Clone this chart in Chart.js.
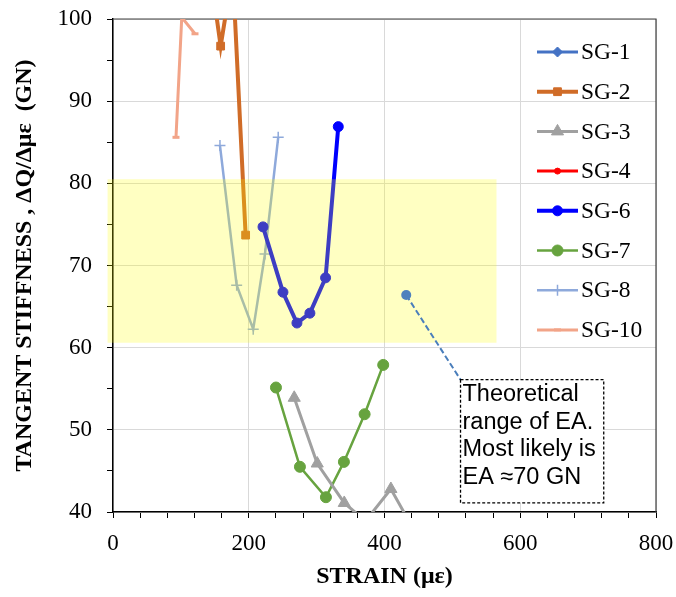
<!DOCTYPE html>
<html>
<head>
<meta charset="utf-8">
<script src="https://cdn.jsdelivr.net/npm/chart.js@4.4.0/dist/chart.umd.min.js"></script>
<style>
  html, body { margin: 0; padding: 0; background: #fff; }
  #wrap { width: 676px; height: 597px; }
</style>
</head>
<body>
<div id="wrap"><canvas id="chart" width="676" height="597"></canvas></div>
<script>
// ----------------------------
// DATA (strain in με, stiffness in GN)
// ----------------------------
const seriesNames = ["SG-1", "SG-2", "SG-3", "SG-4", "SG-6", "SG-7", "SG-8", "SG-10"];

const sg1Strain = [];
const sg1Stiff = [];
const sg2Strain = [148, 158.6, 176.3, 195.4];
const sg2Stiff = [103, 96.7, 105.8, 73.7];
const sg3Strain = [267, 300.9, 340.7, 372, 409.4, 440];
const sg3Stiff = [53.9, 45.9, 41.1, 38.9, 42.8, 38.3];
const sg4Strain = [];
const sg4Stiff = [];
const sg6Strain = [221, 250.4, 271, 290.1, 313.2, 331.9];
const sg6Stiff = [74.7, 66.75, 63, 64.2, 68.5, 86.9];
const sg7Strain = [240.1, 275.4, 313.7, 340.2, 370.7, 398.1];
const sg7Stiff = [55.15, 45.5, 41.8, 46.1, 51.9, 57.9];
const sg8Strain = [157.6, 182.2, 206.6, 223.9, 243.4];
const sg8Stiff = [84.6, 67.6, 62.25, 71.4, 85.6];
const sg10Strain = [92.8, 101.3, 120.8];
const sg10Stiff = [85.6, 100.2, 98.2];

// theoretical EA band + note
const eaBandStrain = [-8, 565];
const eaBandStiff = [60.6, 80.5];
const calloutPoint = [432, 66.4];
const noteStrain = [512, 723];
const noteStiff = [56.1, 41.1];
const noteLines = ["Theoretical", "range of EA.", "Most likely is", "EA \u224870 GN"];

const strainRange = [0, 800];
const stiffRange = [40, 100];

// ----------------------------
// STYLES
// ----------------------------
const styles = {
  "SG-1":  { color: "#4472c4", style: "rectRot",  radius: 5,   width: 3, pw: 1 },
  "SG-2":  { color: "#d06c28", style: "rect",     radius: 5.5, width: 4, pw: 1 },
  "SG-3":  { color: "#a0a0a0", style: "triangle", radius: 7,   width: 3, pw: 1 },
  "SG-4":  { color: "#ff0000", style: "circle",   radius: 3,   width: 3, pw: 1 },
  "SG-6":  { color: "#0000ff", style: "circle",   radius: 5,   width: 4, pw: 1 },
  "SG-7":  { color: "#67a33f", style: "circle",   radius: 5.5, width: 2.5, pw: 1 },
  "SG-8":  { color: "#8ea9db", style: "cross",    radius: 5.5, width: 2.5, pw: 1.5 },
  "SG-10": { color: "#f2a488", style: "line",     radius: 3.5, width: 3, pw: 3 }
};

const xs = [sg1Strain, sg2Strain, sg3Strain, sg4Strain, sg6Strain, sg7Strain, sg8Strain, sg10Strain];
const ys = [sg1Stiff, sg2Stiff, sg3Stiff, sg4Stiff, sg6Stiff, sg7Stiff, sg8Stiff, sg10Stiff];

const datasets = seriesNames.map((name, i) => {
  const s = styles[name];
  return {
    label: name,
    data: xs[i].map((x, j) => ({ x, y: ys[i][j] })),
    borderColor: s.color,
    backgroundColor: s.color,
    borderWidth: s.width,
    pointStyle: s.style,
    pointRadius: s.radius,
    pointBorderWidth: s.pw,
    pointBorderColor: s.color,
    pointBackgroundColor: s.color,
    showLine: true,
    tension: 0,
    fill: false
  };
});

// ----------------------------
// PLUGINS
// ----------------------------
const frame = {
  id: "frame",
  beforeDatasetsDraw(chart) {
    const { ctx, chartArea: a } = chart;
    ctx.save();
    ctx.strokeStyle = "#404040";
    ctx.lineWidth = 1.2;
    ctx.beginPath();
    ctx.moveTo(a.left, a.top);
    ctx.lineTo(a.right, a.top);
    ctx.lineTo(a.right, a.bottom);
    ctx.stroke();
    ctx.restore();
  }
};

const eaBand = {
  id: "eaBand",
  afterDatasetsDraw(chart) {
    const { ctx, scales: { x, y } } = chart;
    ctx.save();

    // yellow band sits over the lines (tints them)
    const bx0 = x.getPixelForValue(eaBandStrain[0]);
    const bx1 = x.getPixelForValue(eaBandStrain[1]);
    const by0 = y.getPixelForValue(eaBandStiff[1]);
    const by1 = y.getPixelForValue(eaBandStiff[0]);
    ctx.fillStyle = "rgba(255, 255, 0, 0.24)";
    ctx.fillRect(bx0, by0, bx1 - bx0, by1 - by0);

    // note box
    const nx0 = x.getPixelForValue(noteStrain[0]);
    const nx1 = x.getPixelForValue(noteStrain[1]);
    const ny0 = y.getPixelForValue(noteStiff[0]);
    const ny1 = y.getPixelForValue(noteStiff[1]);

    // callout line + dot
    const px = x.getPixelForValue(calloutPoint[0]);
    const py = y.getPixelForValue(calloutPoint[1]);
    ctx.strokeStyle = "#4a7ebb";
    ctx.lineWidth = 2;
    ctx.setLineDash([6, 3]);
    ctx.beginPath();
    ctx.moveTo(px, py);
    ctx.lineTo(nx0, ny0);
    ctx.stroke();
    ctx.setLineDash([]);
    ctx.fillStyle = "#4f81bd";
    ctx.beginPath();
    ctx.arc(px, py, 5, 0, Math.PI * 2);
    ctx.fill();

    ctx.fillStyle = "#fff";
    ctx.fillRect(nx0, ny0, nx1 - nx0, ny1 - ny0);
    ctx.strokeStyle = "#000";
    ctx.lineWidth = 1.3;
    ctx.setLineDash([3, 2]);
    ctx.strokeRect(nx0, ny0, nx1 - nx0, ny1 - ny0);
    ctx.setLineDash([]);

    ctx.fillStyle = "#000";
    ctx.font = '23.5px "Liberation Sans"';
    ctx.textBaseline = "middle";
    ctx.textAlign = "left";
    noteLines.forEach((t, i) => ctx.fillText(t, nx0 + 2, ny0 + 15 + i * 27.5));

    ctx.restore();
  }
};

const legendBox = {
  id: "legendBox",
  afterDraw(chart) {
    const { ctx, chartArea: a } = chart;
    const x0 = a.right - 119;
    const x1 = a.right - 78;
    ctx.save();
    chart.data.datasets.forEach((ds, i) => {
      const y = a.top + 33 + i * 39.7;
      ctx.strokeStyle = ds.borderColor;
      ctx.fillStyle = ds.backgroundColor;
      ctx.lineWidth = ds.borderWidth;
      ctx.beginPath();
      ctx.moveTo(x0, y);
      ctx.lineTo(x1, y);
      ctx.stroke();
      ctx.lineWidth = ds.pointBorderWidth;
      Chart.helpers.drawPoint(ctx, {
        pointStyle: ds.pointStyle,
        radius: ds.pointRadius,
        rotation: 0,
        borderWidth: ds.pointBorderWidth
      }, (x0 + x1) / 2, y);
      ctx.fillStyle = "#000";
      ctx.font = '23.5px "Liberation Serif"';
      ctx.textBaseline = "middle";
      ctx.textAlign = "left";
      ctx.fillText(ds.label, x1 + 3, y + 1);
    });
    ctx.restore();
  }
};

// ----------------------------
// CHART
// ----------------------------
const tickFont = { family: "Liberation Serif", size: 23 };
const titleFont = { family: "Liberation Serif", size: 24, weight: "bold" };

new Chart(document.getElementById("chart"), {
  type: "scatter",
  data: { datasets },
  plugins: [frame, eaBand, legendBox],
  options: {
    responsive: false,
    animation: false,
    layout: { padding: { left: 0, right: 20, top: 19, bottom: 0 } },
    plugins: {
      legend: { display: false },
      tooltip: { enabled: false }
    },
    scales: {
      x: {
        type: "linear",
        min: strainRange[0],
        max: strainRange[1],
        ticks: {
          stepSize: 40,
          autoSkip: false,
          maxRotation: 0,
          padding: 12,
          color: "#000",
          font: tickFont,
          callback: v => (v % 200 === 0 ? v : "")
        },
        grid: {
          color: c => (c.tick && c.tick.value % 200 === 0 ? "#d9d9d9" : "rgba(0,0,0,0)"),
          lineWidth: 1,
          tickColor: "#000",
          tickWidth: 1,
          tickLength: 6
        },
        border: { color: "#000", width: 1.5 },
        title: {
          display: true,
          text: "STRAIN (\u03bc\u03b5)",
          color: "#000",
          font: titleFont,
          padding: { top: 0, bottom: 6 }
        },
        afterFit: s => {
          s.height = 85;
          s.paddingLeft = 0;
          s.paddingRight = 0;
        }
      },
      y: {
        type: "linear",
        min: stiffRange[0],
        max: stiffRange[1],
        ticks: {
          stepSize: 5,
          autoSkip: false,
          padding: 15,
          color: "#000",
          font: tickFont,
          callback: v => (v % 10 === 0 ? v : "")
        },
        grid: {
          color: c => (c.tick && c.tick.value % 10 === 0 ? "#d9d9d9" : "rgba(0,0,0,0)"),
          lineWidth: 1,
          tickColor: "#000",
          tickWidth: 1,
          tickLength: 6
        },
        border: { color: "#000", width: 1.5 },
        title: {
          display: true,
          text: "TANGENT STIFFNESS , \u0394Q/\u0394\u03bc\u03b5  (GN)",
          color: "#000",
          font: titleFont,
          padding: { top: 10, bottom: 0 }
        },
        afterFit: s => {
          s.width = 113;
          s.paddingTop = 0;
          s.paddingBottom = 0;
        }
      }
    }
  }
});
</script>
</body>
</html>
